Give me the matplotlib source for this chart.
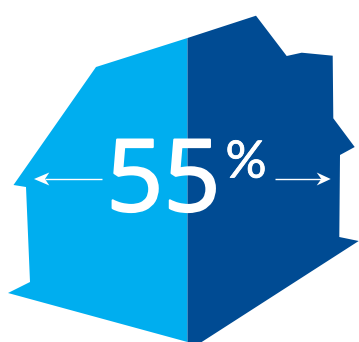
import matplotlib
matplotlib.use('Agg')
import matplotlib.pyplot as plt
from matplotlib.patches import Polygon
import matplotlib.patheffects as pe

light_blue = '#00aeef'
dark_blue = '#004b93'

width = 359
height = 342

share_label = '55'
percent_label = '%'

# house outline, split down the ridge into two halves
left_x = [187.5, 96, 13.5, 26, 30, 8, 187.5]
left_y = [38, 67, 185, 187, 282, 293, 342]
right_x = [187.5, 256, 286.7, 301.7, 332.7, 333.3, 354.7, 340, 339.3, 358.7, 201.7, 187.5]
right_y = [38, 15.7, 56, 52.7, 55.7, 118.3, 147, 155, 237, 241, 342, 342]

# width arrows: tail, tip, wing and notch positions along the x direction
arrow_y = 179
arrow_half_wing = 6.5
left_arrow_x = [101.7, 34, 49.3, 45]
right_arrow_x = [274.7, 330.7, 316.7, 321.3]


def draw_arrow(ax, xs):
    tail, tip, wing, notch = xs
    ax.plot([tail, notch], [arrow_y, arrow_y], color='white', lw=1.0,
            solid_capstyle='butt', zorder=3)
    head = [(tip, arrow_y), (wing, arrow_y - arrow_half_wing),
            (notch, arrow_y), (wing, arrow_y + arrow_half_wing)]
    ax.add_patch(Polygon(head, closed=True, facecolor='white', edgecolor='none', zorder=3))


fig = plt.figure(figsize=(width / 100, height / 100), dpi=100)
ax = fig.add_axes([0, 0, 1, 1])
ax.set_xlim(0, width)
ax.set_ylim(height, 0)
ax.axis('off')

ax.add_patch(Polygon(list(zip(left_x, left_y)), closed=True, facecolor=light_blue, edgecolor='none'))
ax.add_patch(Polygon(list(zip(right_x, right_y)), closed=True, facecolor=dark_blue, edgecolor='none'))

draw_arrow(ax, left_arrow_x)
draw_arrow(ax, right_arrow_x)

# thin white stroke gives the digits a heavier weight
stroke = [pe.withStroke(linewidth=1.6, foreground='white')]
ax.text(163.5, 211, share_label, color='white', family='Open Sans', fontsize=72,
        ha='center', va='baseline', zorder=4, path_effects=stroke)
ax.text(246, 177.5, percent_label, color='white', family='Lato', fontsize=37,
        ha='center', va='baseline', zorder=4,
        path_effects=[pe.withStroke(linewidth=0.6, foreground='white')])

fig.savefig('out.png', dpi=100)
